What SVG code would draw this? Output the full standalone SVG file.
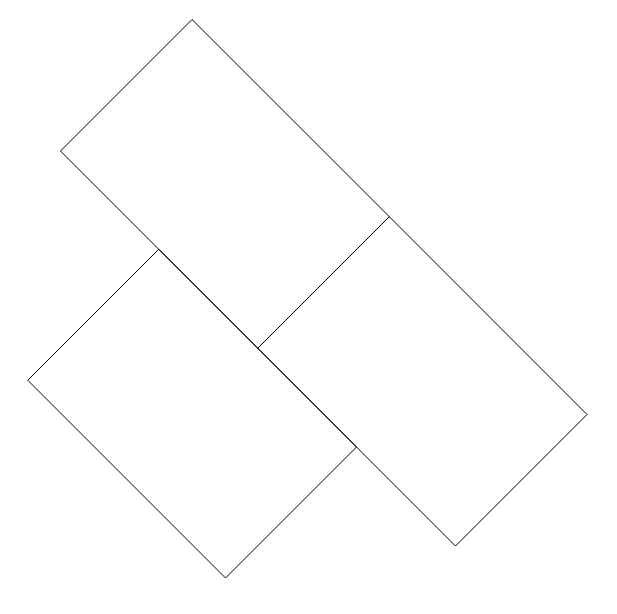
<svg xmlns="http://www.w3.org/2000/svg" width="617" height="614" viewBox="0 0 617 614">
<style>
.box{fill:none;stroke:#000;stroke-width:1}
</style>
<rect width="617" height="614" fill="#fff"/>
<g id="top"><polygon class="box" points="192,19.5 389.3,216.7 257.75,348.25 60.5,151"/></g>
<g id="right"><polygon class="box" points="389.3,216.7 587,414.5 455.5,546 257.75,348.25"/></g>
<g id="left"><polygon class="box" points="158.75,249.25 356.5,447 225.5,578 27.75,380.25"/></g>
<g id="connectors"></g>
</svg>
